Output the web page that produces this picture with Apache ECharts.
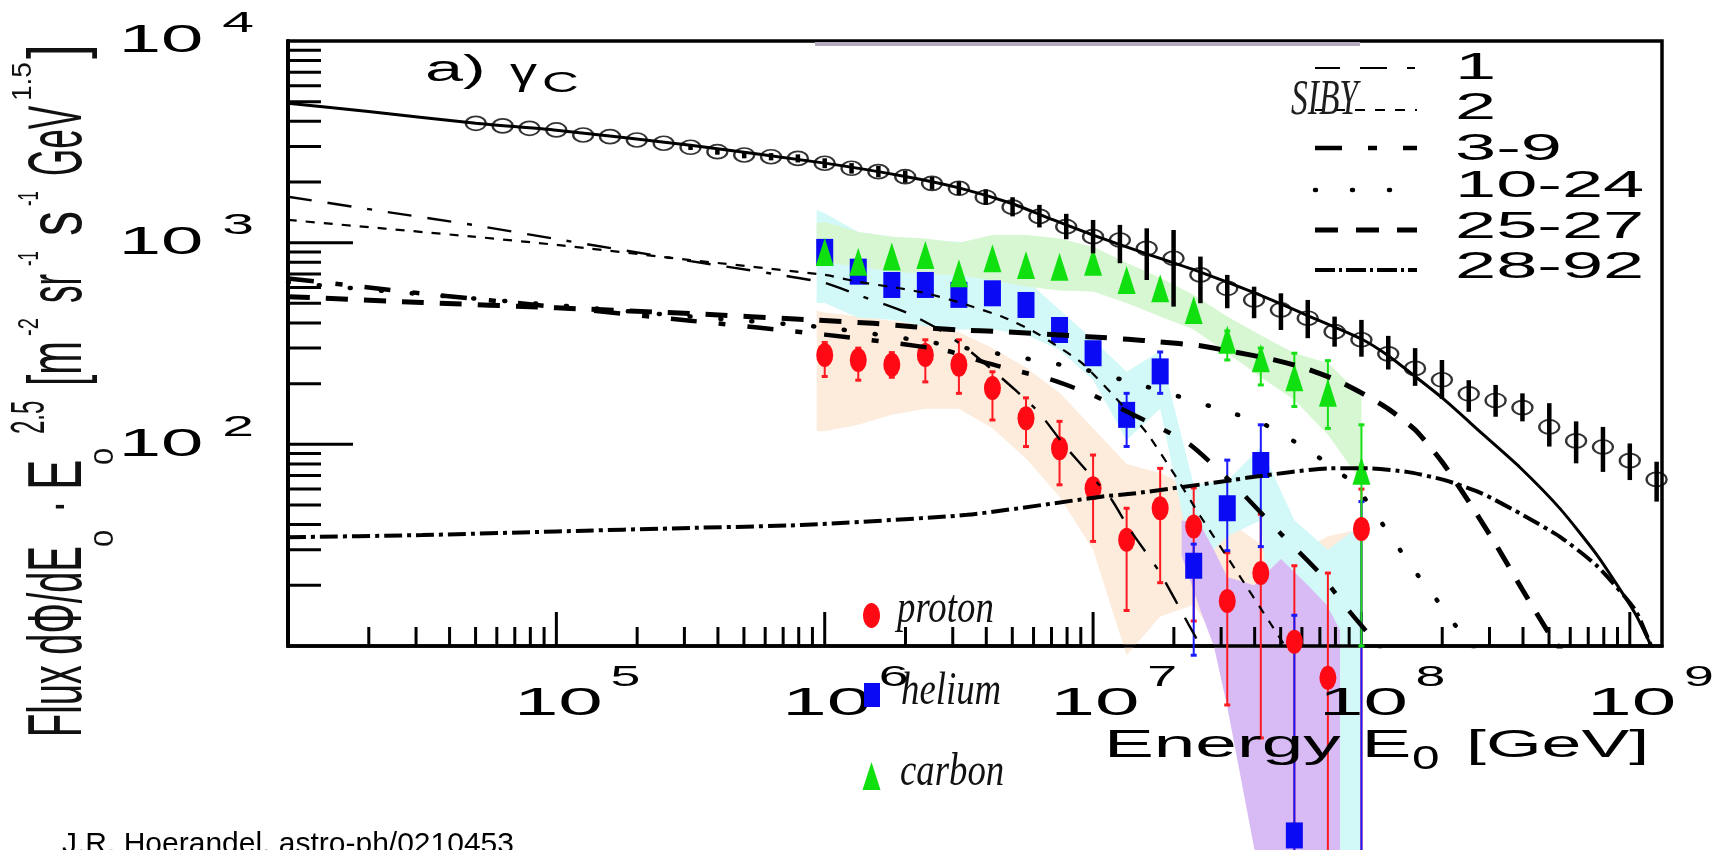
<!DOCTYPE html>
<html>
<head>
<meta charset="utf-8">
<script src="https://cdn.jsdelivr.net/npm/echarts/dist/echarts.min.js"></script>
<style>
html,body{margin:0;padding:0;background:#fff;}
#chart{width:1724px;height:850px;}
</style>
</head>
<body>
<div id="chart"></div>
<script>
// ---- axis ranges (log10 energy in GeV, flux * E^2.5) ----
const X_MIN = 1e4, X_MAX = Math.pow(10, 9.12), Y_MIN = 10, Y_MAX = 1e4;
const LOG = v => Math.pow(10, v);

// ---- all-particle spectrum (open circles) ----
const allLogE = [4.7,4.8,4.9,5.0,5.1,5.2,5.3,5.4,5.5,5.6,5.7,5.8,5.9,6.0,6.1,6.2,6.3,6.4,6.5,6.6,6.7,6.8,6.9,7.0,7.1,7.2,7.3,7.4,7.5,7.6,7.7,7.8,7.9,8.0,8.1,8.2,8.3,8.4,8.5,8.6,8.7,8.8,8.9,9.0,9.1];
const allFlux = [3908,3793,3690,3622,3420,3355,3230,3112,2972,2825,2722,2668,2618,2476,2338,2250,2124,1968,1861,1680,1500,1350,1200,1071,1031,937,837,692,594,520,464,422,362,330,281,238,209,178,165,152,122,104,97,83,67];
const allErrLo = [null,null,null,null,null,null,null,null,2880,2730,2620,2560,2500,2340,2200,2110,1980,1830,1720,1540,1350,1190,1040,885,791,653,482,501,473,422,369,336,305,272,235,195,168,145,137,130,97.5,80.5,73,66.5,52];
const allErrHi = [null,null,null,null,null,null,null,null,3070,2920,2830,2780,2740,2620,2480,2400,2280,2120,2010,1840,1680,1540,1390,1296,1225,1178,1156,853,692,605,561,520,430,414,345,300,262,208,197,179,160,130,122,101,82];

// ---- unfolded element spectra (proton / helium / carbon) ----
const groupLogE = [6.0,6.125,6.25,6.375,6.5,6.625,6.75,6.875,7.0,7.125,7.25,7.375,7.5,7.625,7.75,7.875,8.0];
const protonFlux  = [277,262,248,277,248,190,134.6,95.7,60.6,33.6,48.2,39.1,16.7,23,10.5,6.95,38];
const protonErrLo = [217,208,215,204,179,132,97.5,63,33,15,20.6,13.3,5.1,3.5,0.5,0.5,0.5];
const protonErrHi = [320,300,285,330,330,229,170,130,88.5,48.2,76,60.8,29,45,25,23,60];
const heliumFlux  = [900,718,617,617,551,561,491,369,283,140,230,25,48.2,79,1.15,null,0.5];
const heliumErrLo = [null,null,null,null,null,null,null,null,null,97.6,179,9,29.7,31.1,0.5,null,0.3];
const heliumErrHi = [null,null,null,null,null,null,null,null,null,179,287,32,83.5,125,14.2,null,52];
const carbonFlux  = [900,805,853,869,705,837,775,760,805,653,594,463,330,267,215,180,74];
const carbonErrLo = [null,null,null,null,null,null,null,null,null,null,null,null,262,197,154,120,10];
const carbonErrHi = [null,null,null,null,null,null,null,null,null,null,null,null,365,300,283,260,125];

// ---- systematic bands ----
const bandLogE = [5.97,6.0,6.125,6.25,6.375,6.5,6.625,6.75,6.875,7.0,7.125,7.25,7.375,7.5,7.625,7.75,7.875,8.0];
const protonBandLo = [116,116,125,140,150,150,120,85,55,30,9,14,16,9,11,6,9,12];
const protonBandHi = [460,450,430,410,390,360,300,240,180,120,80,72,60,42,32,28,35,38];
const heliumBandLo = [502,502,424,415,385,371,371,350,294,209,105,150,24,35,42,0.5,0.4,0.3];
const heliumBandHi = [1450,1400,1130,1070,1030,1010,870,655,465,330,229,290,63,66,97,42,30,40];
const carbonBandLo = [800,800,760,720,700,690,650,606,580,572,502,430,371,284,216,166,112,65];
const carbonBandHi = [1250,1265,1130,1070,1050,1000,1090,1090,1050,955,795,670,550,430,347,283,253,174];
const mixBandLogE = [7.33,7.4,7.45,7.5,7.6,7.7,7.8,7.87,7.92];
const mixBandLo = [28,15,10,5,1,0.3,0.3,0.3,0.3];
const mixBandHi = [42,40,30,22,20,27,20,16,12];

// ---- poly-gonato model: total and element groups ----
const totLogE = [4.0,4.3,4.7,5.0,5.5,6.0,6.3,6.5,6.7,6.85,7.0,7.2,7.4,7.6,7.8,8.0,8.1,8.21,8.31,8.45,8.59,8.74,8.88,9.02,9.08,9.12];
const totFlux = [4910,4470,3908,3610,3040,2480,2130,1870,1560,1300,1090,880,715,565,435,333,275,212,166,113,77,48,28,14.5,10,8];
const g1LogE = [4.0,4.36,4.69,5.02,5.5,5.84,6.0,6.14,6.31,6.42,6.52,6.61,6.71,6.8,6.89,7.0,7.07,7.13,7.19,7.25,7.36,7.42];
const g1Flux = [1690,1426,1224,1031,810,690,632,541,447,375,305,243,186,143,100,68,53,39,30,23,12.5,9];
const g2LogE = [4.0,4.69,5.0,5.5,6.0,6.12,6.28,6.38,6.51,6.66,6.78,6.85,6.96,7.12,7.2,7.3,7.4,7.53,7.66,7.75];
const g2Flux = [1297,1071,975,820,692,641,594,561,501,430,362,317,252,151,114,72,44,24,13,8.5];
const g3LogE = [4.0,4.5,5.0,5.5,6.0,6.44,6.61,6.85,7.0,7.2,7.36,7.52,7.7,7.84,7.96,8.05,8.1];
const g3Flux = [665,560,480,410,350,294,252,208,175,130,100,64,36,23.3,14.6,10.5,8.2];
const g10LogE = [4.0,4.5,5.0,5.5,6.0,6.4,6.71,6.95,7.2,7.44,7.63,7.8,7.88,7.97,8.03,8.19,8.29,8.39,8.43];
const g10Flux = [635,555,490,430,380,320,272,238,193,154,127,94,79,64,50,24.4,16.3,10.7,9.2];
const g25LogE = [4.0,4.5,5.0,5.5,5.95,6.18,6.33,6.5,6.66,6.98,7.13,7.24,7.4,7.52,7.65,7.77,7.9,8.0,8.1,8.2,8.3,8.4,8.5,8.6,8.7,8.77];
const g25Flux = [540,505,475,445,414,398,383,369,362,342,332,323,308,288,267,243,210,180,150,118,82,52,32,19,11.5,8.5];
const g28LogE = [4.0,4.5,5.0,5.5,5.91,6.53,7.03,7.15,7.52,7.6,7.88,8.03,8.17,8.31,8.45,8.59,8.74,8.88,9.02,9.08,9.12];
const g28Flux = [34.6,35.5,37,38.5,39.8,44.7,55,57,66.5,69,76,76,73,66.5,57,45.5,34.8,24.8,15.1,10,8];

// ---- axis ticks and labels ----
const xLabelExp = [5,6,7,8,9];
const yLabelExp = [2,3,4];
const mantissas = [2,3,4,5,6,7,8,9];
const xDecades = [1e4,1e5,1e6,1e7,1e8];
const xMajor = [1e5,1e6,1e7,1e8,1e9];
const yDecades = [10,100,1000];
const yMajor = [100,1000];

// ---- legend ----
const groupNames = ['1','2','3-9','10-24','25-27','28-92'];

const SANS = '"Liberation Sans", Arial, sans-serif';
const SERIF = '"Liberation Serif", "Times New Roman", serif';

const pairs = (lx, ys) => lx.map((l, i) => [LOG(l), ys[i]]);

function bandSeries(name, logE, lo, hi, fill) {
  return {
    type: 'custom', name, z: 1, silent: true,
    data: [[LOG(logE[0]), hi[0]]],
    encode: { x: 0, y: 1 },
    renderItem: (params, api) => {
      const pts = [];
      for (let i = 0; i < logE.length; i++) pts.push(api.coord([LOG(logE[i]), hi[i]]));
      for (let i = logE.length - 1; i >= 0; i--) pts.push(api.coord([LOG(logE[i]), lo[i]]));
      return { type: 'polygon', shape: { points: pts }, style: { fill } };
    }
  };
}

function errSeries(name, logE, lo, hi, color, width, capW, z) {
  const data = [];
  logE.forEach((l, i) => { if (lo[i] != null && hi[i] != null) data.push([LOG(l), lo[i], hi[i]]); });
  return {
    type: 'custom', name, z, silent: true, data,
    encode: { x: 0, y: [1, 2] },
    renderItem: (params, api) => {
      const x = api.value(0);
      const a = api.coord([x, api.value(1)]);
      const b = api.coord([x, api.value(2)]);
      const children = [{ type: 'line', shape: { x1: a[0], y1: a[1], x2: b[0], y2: b[1] }, style: { stroke: color, lineWidth: width } }];
      if (capW) {
        children.push({ type: 'line', shape: { x1: a[0] - capW, y1: a[1], x2: a[0] + capW, y2: a[1] }, style: { stroke: color, lineWidth: 3 } });
        children.push({ type: 'line', shape: { x1: b[0] - capW, y1: b[1], x2: b[0] + capW, y2: b[1] }, style: { stroke: color, lineWidth: 3 } });
      }
      return { type: 'group', children };
    }
  };
}

function curve(name, logE, flux, width, dash, cap) {
  return {
    type: 'line', name, z: 6, silent: true, symbol: 'none',
    smooth: 0.2,
    data: pairs(logE, flux),
    lineStyle: { color: '#000', width, type: dash || 'solid', cap: cap || 'butt' }
  };
}

function tickSeries(items, horizontal) {
  return {
    type: 'custom', z: 3, silent: true,
    data: items,
    encode: horizontal ? { x: 1, y: 0 } : { x: 0, y: 1 },
    renderItem: (params, api) => {
      const v = api.value(0), len = api.value(2);
      if (horizontal) {
        const p = api.coord([X_MIN, v]);
        return { type: 'line', shape: { x1: p[0], y1: p[1], x2: p[0] + len, y2: p[1] }, style: { stroke: '#000', lineWidth: 3 } };
      }
      const p = api.coord([v, Y_MIN]);
      return { type: 'line', shape: { x1: p[0], y1: p[1], x2: p[0], y2: p[1] - len }, style: { stroke: '#000', lineWidth: 3 } };
    }
  };
}

const xTickItems = [];
xDecades.forEach(d => mantissas.forEach(m => xTickItems.push([m * d, Y_MIN, 19])));
xMajor.forEach(v => xTickItems.push([v, Y_MIN, 34]));
const yTickItems = [];
yDecades.forEach(d => mantissas.forEach(m => yTickItems.push([m * d, X_MIN, 33])));
yMajor.forEach(v => yTickItems.push([v, X_MIN, 65]));

const series = [
  bandSeries('proton band', bandLogE, protonBandLo, protonBandHi, '#fdecdc'),
  bandSeries('helium band', bandLogE, heliumBandLo, heliumBandHi, '#d3f8f8'),
  bandSeries('carbon band', bandLogE, carbonBandLo, carbonBandHi, '#d6f7d2'),
  bandSeries('mixed band', mixBandLogE, mixBandLo, mixBandHi, '#d8baf5'),
  errSeries('proton err', groupLogE, protonErrLo, protonErrHi, '#ff1a22', 2, 3, 4),
  errSeries('helium err', groupLogE, heliumErrLo, heliumErrHi, '#1a1aff', 2, 3, 4),
  errSeries('carbon err', groupLogE, carbonErrLo, carbonErrHi, '#16e016', 2, 3, 4),
  {
    type: 'scatter', name: 'proton', z: 5, clip: false, silent: true,
    symbol: 'circle', symbolSize: [17, 24],
    data: pairs(groupLogE, protonFlux),
    itemStyle: { color: '#ff0a14', opacity: 1 }
  },
  {
    type: 'scatter', name: 'helium', z: 5, clip: false, silent: true,
    symbol: 'rect', symbolSize: [17, 26],
    data: groupLogE.map((l, i) => heliumFlux[i] == null ? null : [LOG(l), heliumFlux[i]]).filter(d => d),
    itemStyle: { color: '#0a0af5', opacity: 1 }
  },
  {
    type: 'scatter', name: 'carbon', z: 5, clip: false, silent: true,
    symbol: 'triangle', symbolSize: [18, 28],
    data: pairs(groupLogE, carbonFlux),
    itemStyle: { color: '#10e010', opacity: 1 }
  },
  curve('total', totLogE, totFlux, 3),
  curve('1', g1LogE, g1Flux, 2.4, [24, 16, 24, 16, 5, 16]),
  curve('2', g2LogE, g2Flux, 2.2, [9, 9]),
  curve('3-9', g3LogE, g3Flux, 4.5, [26, 22, 7, 22]),
  curve('10-24', g10LogE, g10Flux, 4.5, [1, 30], 'round'),
  curve('25-27', g25LogE, g25Flux, 5, [22, 16]),
  curve('28-92', g28LogE, g28Flux, 4, [18, 5, 4, 5]),
  errSeries('all err', allLogE, allErrLo, allErrHi, '#000', 4.5, 0, 7),
  {
    type: 'scatter', name: 'all-particle', z: 8, clip: false, silent: true,
    symbol: 'circle', symbolSize: [20, 14],
    data: pairs(allLogE, allFlux),
    itemStyle: { color: 'rgba(255,255,255,0)', borderColor: '#000', borderWidth: 2 }
  },
  tickSeries(xTickItems, false),
  tickSeries(yTickItems, true),
  {
    type: 'custom', z: 9, silent: true,
    data: xLabelExp.map(e => [LOG(e), Y_MIN, e]),
    encode: { x: 0, y: 1 },
    renderItem: (params, api) => {
      const p = api.coord([api.value(0), Y_MIN]);
      return { type: 'group', children: [
        { type: 'text', x: p[0] + 2, y: p[1] + 58, scaleX: 2.05,
          style: { text: '10', fontSize: 39, fontFamily: SANS, fill: '#000', align: 'center', verticalAlign: 'middle' } },
        { type: 'text', x: p[0] + 69, y: p[1] + 32, scaleX: 1.85,
          style: { text: String(api.value(2)), fontSize: 29, fontFamily: SANS, fill: '#000', align: 'center', verticalAlign: 'middle' } }
      ] };
    }
  },
  {
    type: 'custom', z: 9, silent: true,
    data: yLabelExp.map(e => [X_MIN, LOG(e), e]),
    encode: { x: 0, y: 1 },
    renderItem: (params, api) => {
      const p = api.coord([X_MIN, api.value(1)]);
      return { type: 'group', children: [
        { type: 'text', x: p[0] - 127, y: p[1] + 1, scaleX: 2.0,
          style: { text: '10', fontSize: 38, fontFamily: SANS, fill: '#000', align: 'center', verticalAlign: 'middle' } },
        { type: 'text', x: p[0] - 50, y: p[1] - 17, scaleX: 1.9,
          style: { text: String(api.value(2)), fontSize: 30, fontFamily: SANS, fill: '#000', align: 'center', verticalAlign: 'middle' } }
      ] };
    }
  }
];

// legend rows (top right)
const legendRows = [
  { y: 68,  w: 2.2, dash: [25, 20, 27, 20, 8, 20], cap: 'butt' },
  { y: 110, w: 2.2, dash: [10, 10], cap: 'butt' },
  { y: 148, w: 4.5, dash: [27, 26, 9, 26], cap: 'butt' },
  { y: 190, w: 4.5, dash: [1, 36], cap: 'round' },
  { y: 230, w: 5,   dash: [23, 18], cap: 'butt' },
  { y: 270, w: 4,   dash: [20, 4, 3, 4], cap: 'butt' }
];
const legendLabelY = [68.5, 108.5, 149.5, 186.5, 227.5, 267.5];

const graphics = [];
// top edge of the element-spectra inset
graphics.push({ type: 'rect', z: 2, shape: { x: 815, y: 42, width: 545, height: 4 }, style: { fill: '#b7a9be' } });

legendRows.forEach((r, i) => {
  graphics.push({ type: 'line', z: 10, shape: { x1: 1315, y1: r.y, x2: 1417, y2: r.y },
    style: { stroke: '#000', lineWidth: r.w, lineDash: r.dash, lineCap: r.cap } });
  graphics.push({ type: 'text', z: 10, x: 1455, y: legendLabelY[i], scaleX: 2.0,
    style: { text: groupNames[i], fontSize: 37, fontFamily: SANS, fill: '#000', align: 'left', verticalAlign: 'middle' } });
});
graphics.push({ type: 'text', z: 11, x: 1291, y: 101, scaleX: 0.67,
  style: { text: 'SIBY', fontSize: 50, fontStyle: 'italic', fontFamily: SERIF, fill: '#1c1f1c', align: 'left', verticalAlign: 'middle' } });

// panel label
graphics.push({ type: 'text', z: 10, x: 425, y: 71, scaleX: 1.9,
  style: { text: 'a)', fontSize: 36, fontFamily: SANS, fill: '#000', align: 'left', verticalAlign: 'middle' } });
graphics.push({ type: 'text', z: 10, x: 510, y: 74, scaleX: 1.5,
  style: { text: 'γ', fontSize: 36, fontFamily: SANS, fill: '#000', align: 'left', verticalAlign: 'middle' } });
graphics.push({ type: 'text', z: 10, x: 542, y: 84, scaleX: 1.7,
  style: { text: 'C', fontSize: 30, fontFamily: SANS, fill: '#000', align: 'left', verticalAlign: 'middle' } });

// element legend (bottom)
graphics.push({ type: 'ellipse', z: 10, shape: { cx: 871.5, cy: 615.5, rx: 8.5, ry: 12.5 }, style: { fill: '#ff0a14' } });
graphics.push({ type: 'rect', z: 10, shape: { x: 864, y: 683, width: 16, height: 24 }, style: { fill: '#0a0af5' } });
graphics.push({ type: 'polygon', z: 10, shape: { points: [[871.5, 762], [880.5, 790], [862.5, 790]] }, style: { fill: '#10e010' } });
[['proton', 897, 610], ['helium', 901, 692], ['carbon', 900, 773]].forEach(t => {
  graphics.push({ type: 'text', z: 10, x: t[1], y: t[2], scaleX: 0.8,
    style: { text: t[0], fontSize: 46, fontStyle: 'italic', fontFamily: SERIF, fill: '#111', align: 'left', verticalAlign: 'middle' } });
});

// x-axis title
graphics.push({ type: 'text', z: 10, x: 1104, y: 746, scaleX: 1.94,
  style: { text: 'Energy E', fontSize: 38.5, fontFamily: SANS, fill: '#000', align: 'left', verticalAlign: 'middle' } });
graphics.push({ type: 'text', z: 10, x: 1412, y: 760, scaleX: 1.5,
  style: { text: '0', fontSize: 33, fontFamily: SANS, fill: '#000', align: 'left', verticalAlign: 'middle' } });
graphics.push({ type: 'text', z: 10, x: 1466, y: 746, scaleX: 1.86,
  style: { text: '[GeV]', fontSize: 38.5, fontFamily: SANS, fill: '#000', align: 'left', verticalAlign: 'middle' } });

// y-axis title, read bottom to top
const yTitle = [
  ['Flux dΦ/dE', 737, 60, 76, 0.5],
  ['0', 547, 105, 28, 1.1],
  ['·', 513, 60, 76, 0.5],
  ['E', 490, 60, 76, 0.6],
  ['0', 465, 105, 28, 1.1],
  ['2.5', 434, 31, 48, 0.5],
  ['[m', 386, 60, 76, 0.53],
  ['-2', 336, 30, 30, 0.67],
  ['sr', 303, 60, 76, 0.46],
  ['-1', 266, 30, 30, 0.56],
  ['s', 236, 60, 76, 0.66],
  ['-1', 206, 30, 30, 0.56],
  ['GeV', 176, 60, 76, 0.46],
  ['1.5', 101, 23, 28, 1.0],
  [']', 59, 60, 76, 0.7]
];
yTitle.forEach(t => {
  graphics.push({ type: 'text', z: 10, x: t[2], y: t[1], rotation: Math.PI / 2, scaleX: t[4],
    style: { text: t[0], fontSize: t[3], fontFamily: SANS, fill: '#111', align: 'left', verticalAlign: 'middle' } });
});

// reference line
graphics.push({ type: 'text', z: 10, x: 62, y: 845,
  style: { text: 'J.R. Hoerandel, astro-ph/0210453', fontSize: 30, fontFamily: SANS, fill: '#000', align: 'left', verticalAlign: 'middle' } });

const chart = echarts.init(document.getElementById('chart'));
chart.setOption({
  animation: false,
  backgroundColor: '#fff',
  grid: { left: 288, right: 62, top: 41, bottom: 204, show: true, borderColor: '#000', borderWidth: 3.5, backgroundColor: 'transparent', z: 0 },
  xAxis: {
    type: 'log', logBase: 10, min: X_MIN, max: X_MAX, z: 3,
    axisLine: { show: true, lineStyle: { color: '#000', width: 3.5 } },
    axisTick: { show: false }, axisLabel: { show: false }, splitLine: { show: false }, minorTick: { show: false }
  },
  yAxis: {
    type: 'log', logBase: 10, min: Y_MIN, max: Y_MAX, z: 3,
    axisLine: { show: true, lineStyle: { color: '#000', width: 4 } },
    axisTick: { show: false }, axisLabel: { show: false }, splitLine: { show: false }, minorTick: { show: false }
  },
  series,
  graphic: graphics
});
</script>
</body>
</html>
